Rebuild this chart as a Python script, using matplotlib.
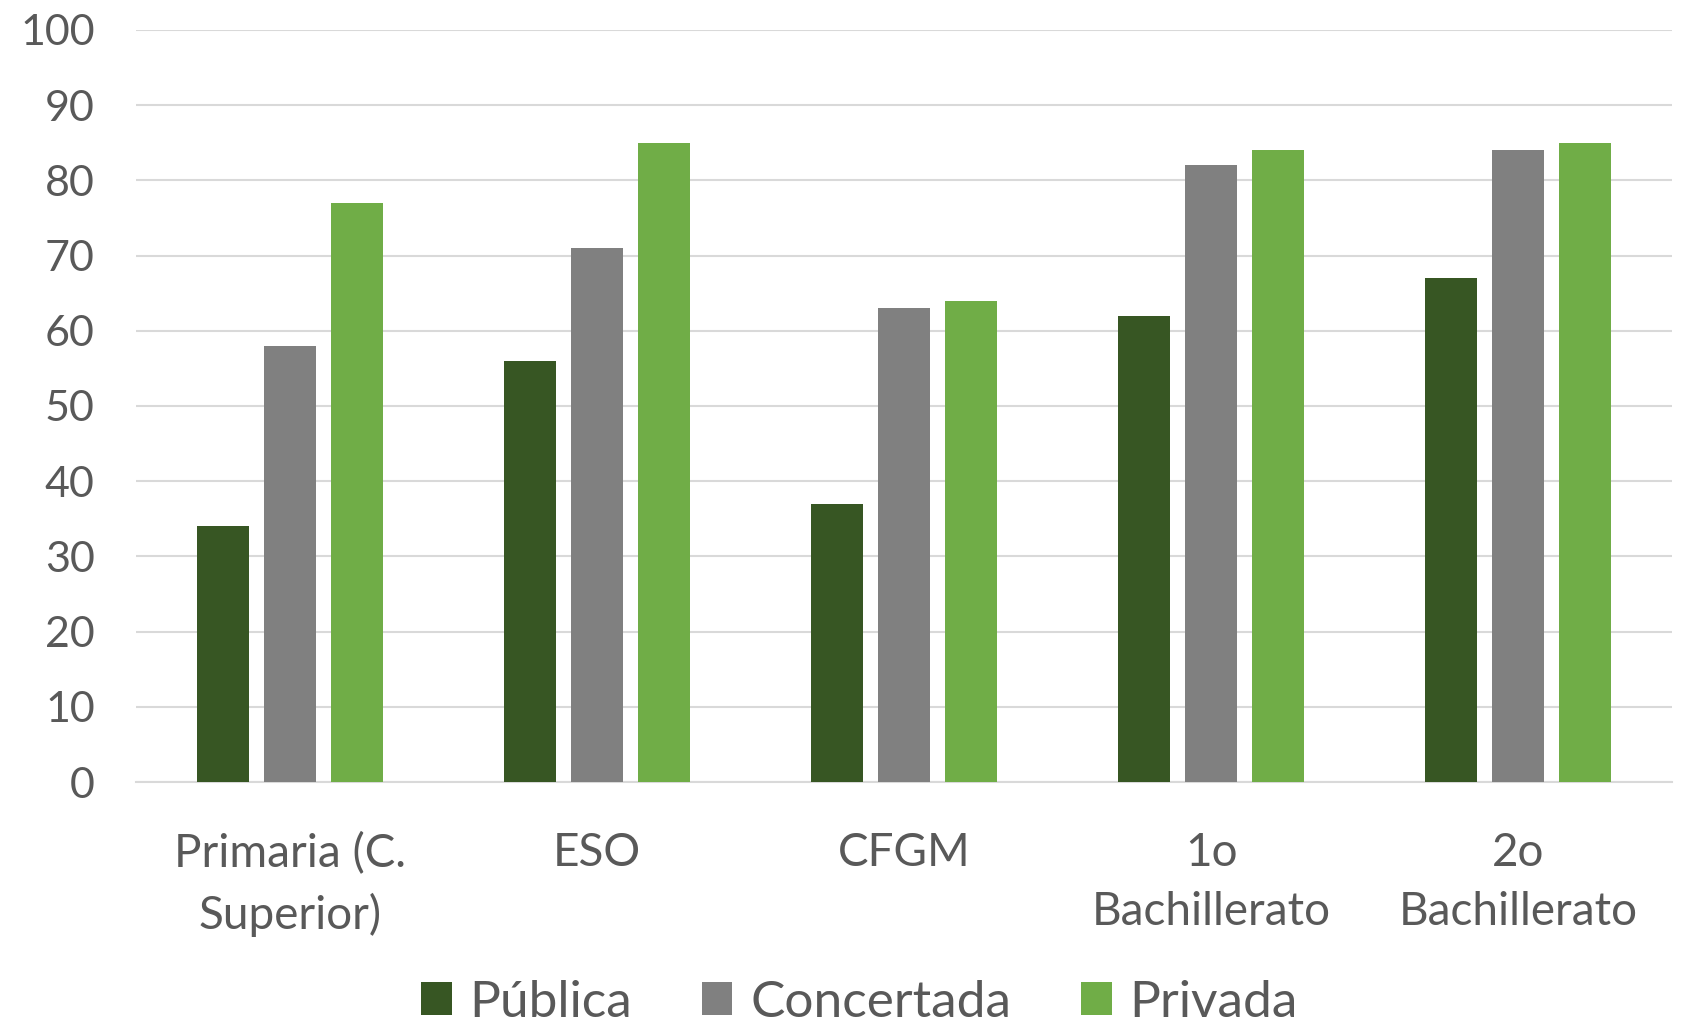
import numpy as np
import matplotlib.pyplot as plt
from matplotlib.patches import Patch

# datos
categorias = ['Primaria (C.\nSuperior)', 'ESO', 'CFGM', '1o\nBachillerato', '2o\nBachillerato']
publica = [34, 56, 37, 62, 67]
concertada = [58, 71, 63, 82, 84]
privada = [77, 85, 64, 84, 85]
series = ['Pública', 'Concertada', 'Privada']
colores = ['#375623', '#808080', '#70AD47']

plt.rcParams['font.family'] = ['Lato', 'DejaVu Sans']
texto = '#595959'

fig = plt.figure(figsize=(16.85, 10.29), dpi=100)
ax = fig.add_axes([0.081, 0.240, 0.911, 0.731])

x = np.arange(len(categorias))
ancho = 0.17
paso = 0.218
for i, (valores, color) in enumerate(zip([publica, concertada, privada], colores)):
    ax.bar(x + (i - 1) * paso, valores, width=ancho, color=color, zorder=3)

ax.set_xlim(-0.5, len(categorias) - 0.5)
ax.set_ylim(0, 100)
ax.set_yticks(np.arange(0, 101, 10))
ax.yaxis.grid(True, color='#D9D9D9', linewidth=1.5, zorder=0)
ax.set_xticks(x)
ax.set_xticklabels(categorias, fontsize=33, color=texto, linespacing=1.5)
ax.tick_params(axis='y', labelsize=31, colors=texto, length=0, pad=30)
ax.tick_params(axis='x', length=0, pad=36)
for lado in ['top', 'right', 'left']:
    ax.spines[lado].set_visible(False)
ax.spines['bottom'].set_color('#D9D9D9')
ax.spines['bottom'].set_linewidth(1.5)

handles = [Patch(facecolor=c, label=s) for s, c in zip(series, colores)]
fig.legend(handles=handles, loc='lower center', bbox_to_anchor=(0.51, -0.007), ncol=3,
           frameon=False, fontsize=37, labelcolor=texto, handlelength=0.6,
           handleheight=0.6, handletextpad=0.35, columnspacing=1.35,
           borderpad=0.1, borderaxespad=0.1)

fig.savefig('out.png', dpi=100)
